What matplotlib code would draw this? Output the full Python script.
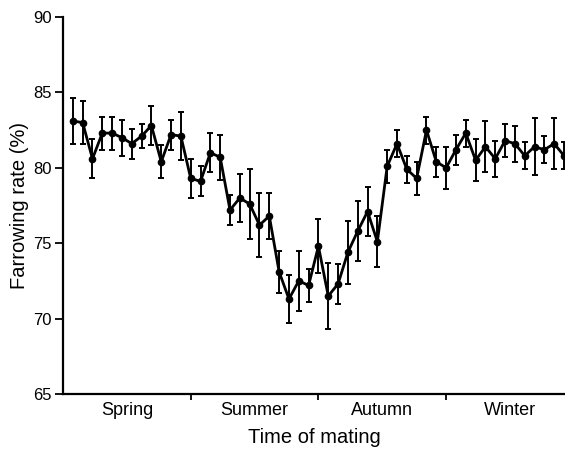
import numpy as np
import matplotlib.pyplot as plt

plt.rcParams['font.family'] = ['Liberation Sans', 'DejaVu Sans']

# Неделя случки (1..51)
weeks = np.arange(1, 52)

# Процент опоросов по неделям
rate = [83.1, 83.0, 80.6, 82.3, 82.3, 82.0, 81.6, 82.1, 82.8, 80.4,
        82.2, 82.1, 79.3, 79.1, 81.0, 80.7, 77.2, 78.0, 77.6, 76.2,
        76.8, 73.1, 71.3, 72.5, 72.2, 74.8, 71.5, 72.3, 74.4, 75.8,
        77.1, 75.1, 80.1, 81.6, 79.9, 79.3, 82.5, 80.4, 80.0, 81.2,
        82.3, 80.5, 81.4, 80.6, 81.8, 81.6, 80.8, 81.4, 81.2, 81.6,
        80.8]

# Погрешности (±)
err = [1.5, 1.4, 1.3, 1.1, 1.1, 1.2, 1.0, 0.8, 1.3, 1.1,
       1.0, 1.6, 1.3, 1.0, 1.3, 1.5, 1.0, 1.6, 2.3, 2.1,
       1.5, 1.4, 1.6, 2.0, 1.1, 1.8, 2.2, 1.3, 2.1, 2.0,
       1.6, 1.7, 1.1, 0.9, 0.9, 1.1, 0.9, 1.0, 1.4, 1.0,
       0.9, 1.4, 1.7, 1.2, 1.1, 1.2, 0.9, 1.9, 0.9, 1.7,
       0.9]

seasons = ['Spring', 'Summer', 'Autumn', 'Winter']
season_bounds = [13, 26, 39]
season_centres = [6.5, 19.5, 32.5, 45.5]

fig = plt.figure(figsize=(5.65, 4.49), dpi=100)
ax = fig.add_axes([63 / 565, 1 - 394 / 449, 1 - 63 / 565, (394 - 17) / 449])

ax.errorbar(weeks, rate, yerr=err, color='black', lw=2.0, marker='o',
            ms=4.5, ecolor='black', elinewidth=1.4, capsize=2.5,
            capthick=1.4, clip_on=False)

ax.set_xlim(0, 51.1)
ax.set_ylim(65, 90)
ax.set_yticks([65, 70, 75, 80, 85, 90])
ax.tick_params(axis='y', labelsize=12, length=6, width=1.3, direction='out', pad=2)

ax.set_xticks(season_bounds)
ax.set_xticklabels([])
ax.tick_params(axis='x', which='major', length=4, width=1.3)
ax.set_xticks(season_centres, minor=True)
ax.set_xticklabels(seasons, minor=True, fontsize=13)
ax.tick_params(axis='x', which='minor', length=0, pad=6)

ax.spines['top'].set_visible(False)
ax.spines['right'].set_visible(False)
ax.spines['left'].set_linewidth(1.6)
ax.spines['bottom'].set_linewidth(1.6)

ax.set_xlabel('Time of mating', fontsize=14.5, labelpad=6)
ax.set_ylabel('Farrowing rate (%)', fontsize=14.5, labelpad=3)

fig.savefig('out.png', dpi=100)
